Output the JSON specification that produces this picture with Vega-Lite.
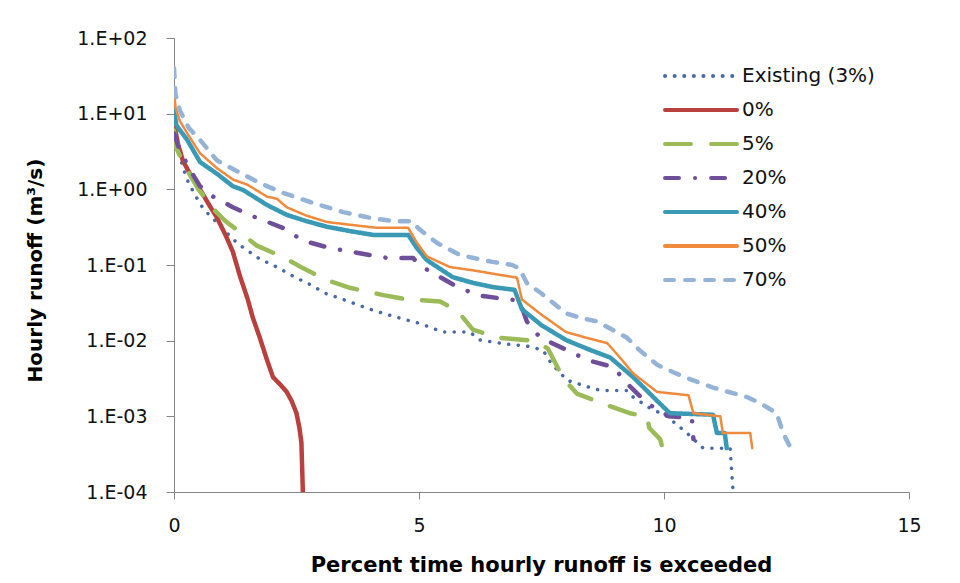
{
  "$schema": "https://vega.github.io/schema/vega-lite/v6.json",
  "autosize": {"type": "none"},
  "width": 735,
  "height": 454,
  "padding": {"left": 174, "top": 38, "right": 51, "bottom": 91},
  "background": "white",
  "config": {
    "view": {"stroke": null},
    "font": "DejaVu Sans",
    "axis": {"grid": false, "domainColor": "#868686", "tickColor": "#868686", "labelColor": "#111111", "labelFont": "DejaVu Sans", "labelFontSize": 19, "titleFont": "DejaVu Sans", "titleFontWeight": "bold", "titleColor": "#000000"},
    "legend": {"symbolType": "stroke", "symbolSize": 5184, "symbolStrokeWidth": 4, "labelFont": "DejaVu Sans", "labelFontSize": 20, "labelColor": "#111111", "labelOffset": 3, "clipHeight": 34, "rowPadding": 0, "padding": 0}
  },
  "data": {"values": [
    {"series":"Existing (3%)","x":0,"y":7},{"series":"Existing (3%)","x":0.05,"y":4},{"series":"Existing (3%)","x":0.1,"y":3},{"series":"Existing (3%)","x":0.2,"y":1.8},{"series":"Existing (3%)","x":0.3,"y":1.2},{"series":"Existing (3%)","x":0.45,"y":0.8},{"series":"Existing (3%)","x":0.6,"y":0.55},{"series":"Existing (3%)","x":0.94,"y":0.33},{"series":"Existing (3%)","x":1.2,"y":0.22},{"series":"Existing (3%)","x":1.41,"y":0.17},{"series":"Existing (3%)","x":1.75,"y":0.12},{"series":"Existing (3%)","x":2.1,"y":0.094},{"series":"Existing (3%)","x":2.45,"y":0.07},{"series":"Existing (3%)","x":2.78,"y":0.055},{"series":"Existing (3%)","x":3.1,"y":0.042},{"series":"Existing (3%)","x":3.45,"y":0.035},{"series":"Existing (3%)","x":4.0,"y":0.026},{"series":"Existing (3%)","x":4.47,"y":0.021},{"series":"Existing (3%)","x":5.0,"y":0.017},{"series":"Existing (3%)","x":5.49,"y":0.013},{"series":"Existing (3%)","x":6.04,"y":0.013},{"series":"Existing (3%)","x":6.24,"y":0.0102},{"series":"Existing (3%)","x":6.8,"y":0.009},{"series":"Existing (3%)","x":7.2,"y":0.0085},{"series":"Existing (3%)","x":7.53,"y":0.0075},{"series":"Existing (3%)","x":7.7,"y":0.005},{"series":"Existing (3%)","x":8.02,"y":0.003},{"series":"Existing (3%)","x":8.4,"y":0.0025},{"series":"Existing (3%)","x":8.7,"y":0.0022},{"series":"Existing (3%)","x":9.24,"y":0.0022},{"series":"Existing (3%)","x":9.37,"y":0.0018},{"series":"Existing (3%)","x":9.7,"y":0.0013},{"series":"Existing (3%)","x":10.06,"y":0.001},{"series":"Existing (3%)","x":10.47,"y":0.0006},{"series":"Existing (3%)","x":10.8,"y":0.00038},{"series":"Existing (3%)","x":11.35,"y":0.00038},{"series":"Existing (3%)","x":11.41,"y":0.0001},
    {"series":"0%","x":0,"y":9},{"series":"0%","x":0.03,"y":6},{"series":"0%","x":0.08,"y":4},{"series":"0%","x":0.18,"y":2.4},{"series":"0%","x":0.35,"y":1.5},{"series":"0%","x":0.53,"y":1.0},{"series":"0%","x":0.7,"y":0.65},{"series":"0%","x":0.87,"y":0.43},{"series":"0%","x":1.05,"y":0.25},{"series":"0%","x":1.2,"y":0.15},{"series":"0%","x":1.35,"y":0.07},{"series":"0%","x":1.5,"y":0.036},{"series":"0%","x":1.61,"y":0.02},{"series":"0%","x":1.75,"y":0.011},{"series":"0%","x":1.9,"y":0.0055},{"series":"0%","x":2.02,"y":0.0033},{"series":"0%","x":2.15,"y":0.0027},{"series":"0%","x":2.3,"y":0.0021},{"series":"0%","x":2.4,"y":0.0016},{"series":"0%","x":2.5,"y":0.0011},{"series":"0%","x":2.56,"y":0.0007},{"series":"0%","x":2.6,"y":0.00045},{"series":"0%","x":2.63,"y":0.0001},
    {"series":"5%","x":0,"y":6},{"series":"5%","x":0.05,"y":3.5},{"series":"5%","x":0.19,"y":2.2},{"series":"5%","x":0.5,"y":1.0},{"series":"5%","x":0.8,"y":0.55},{"series":"5%","x":1.05,"y":0.38},{"series":"5%","x":1.29,"y":0.29},{"series":"5%","x":1.69,"y":0.18},{"series":"5%","x":2.22,"y":0.128},{"series":"5%","x":2.63,"y":0.091},{"series":"5%","x":3.12,"y":0.063},{"series":"5%","x":3.59,"y":0.05},{"series":"5%","x":4.27,"y":0.04},{"series":"5%","x":4.76,"y":0.035},{"series":"5%","x":5.43,"y":0.033},{"series":"5%","x":5.78,"y":0.025},{"series":"5%","x":6.1,"y":0.014},{"series":"5%","x":6.59,"y":0.011},{"series":"5%","x":7.33,"y":0.01},{"series":"5%","x":7.63,"y":0.0079},{"series":"5%","x":7.94,"y":0.0032},{"series":"5%","x":8.22,"y":0.002},{"series":"5%","x":8.84,"y":0.0014},{"series":"5%","x":9.3,"y":0.0011},{"series":"5%","x":9.65,"y":0.001},{"series":"5%","x":9.7,"y":0.0007},{"series":"5%","x":9.92,"y":0.0005},{"series":"5%","x":9.98,"y":0.00036},
    {"series":"20%","x":0,"y":5.5},{"series":"20%","x":0.1,"y":3.5},{"series":"20%","x":0.33,"y":1.8},{"series":"20%","x":0.53,"y":1.1},{"series":"20%","x":0.8,"y":0.8},{"series":"20%","x":1.2,"y":0.58},{"series":"20%","x":1.65,"y":0.43},{"series":"20%","x":2.22,"y":0.31},{"series":"20%","x":2.63,"y":0.21},{"series":"20%","x":3.18,"y":0.168},{"series":"20%","x":3.73,"y":0.145},{"series":"20%","x":4.35,"y":0.124},{"series":"20%","x":4.88,"y":0.124},{"series":"20%","x":5.0,"y":0.1},{"series":"20%","x":5.29,"y":0.078},{"series":"20%","x":5.7,"y":0.055},{"series":"20%","x":6.18,"y":0.04},{"series":"20%","x":6.82,"y":0.035},{"series":"20%","x":7.05,"y":0.034},{"series":"20%","x":7.2,"y":0.018},{"series":"20%","x":7.47,"y":0.011},{"series":"20%","x":8.02,"y":0.0075},{"series":"20%","x":8.45,"y":0.0055},{"series":"20%","x":8.96,"y":0.0045},{"series":"20%","x":9.3,"y":0.0025},{"series":"20%","x":9.65,"y":0.0015},{"series":"20%","x":10.1,"y":0.001},{"series":"20%","x":10.57,"y":0.00095},{"series":"20%","x":10.6,"y":0.0005},
    {"series":"40%","x":0,"y":11},{"series":"40%","x":0.05,"y":7},{"series":"40%","x":0.27,"y":4.5},{"series":"40%","x":0.53,"y":2.3},{"series":"40%","x":0.88,"y":1.6},{"series":"40%","x":1.2,"y":1.1},{"series":"40%","x":1.41,"y":0.98},{"series":"40%","x":1.9,"y":0.62},{"series":"40%","x":2.3,"y":0.46},{"series":"40%","x":2.7,"y":0.38},{"series":"40%","x":3.12,"y":0.32},{"series":"40%","x":3.6,"y":0.28},{"series":"40%","x":4.06,"y":0.25},{"series":"40%","x":4.78,"y":0.25},{"series":"40%","x":4.95,"y":0.17},{"series":"40%","x":5.16,"y":0.116},{"series":"40%","x":5.69,"y":0.069},{"series":"40%","x":6.1,"y":0.058},{"series":"40%","x":6.51,"y":0.051},{"series":"40%","x":6.95,"y":0.047},{"series":"40%","x":7.1,"y":0.026},{"series":"40%","x":7.5,"y":0.016},{"series":"40%","x":8.0,"y":0.0102},{"series":"40%","x":8.5,"y":0.0075},{"series":"40%","x":8.9,"y":0.006},{"series":"40%","x":9.37,"y":0.0033},{"series":"40%","x":9.86,"y":0.0016},{"series":"40%","x":10.12,"y":0.0011},{"series":"40%","x":11.0,"y":0.00105},{"series":"40%","x":11.08,"y":0.0006},{"series":"40%","x":11.24,"y":0.0006},{"series":"40%","x":11.28,"y":0.00038},
    {"series":"50%","x":0,"y":22},{"series":"50%","x":0.03,"y":12},{"series":"50%","x":0.12,"y":8},{"series":"50%","x":0.27,"y":5.5},{"series":"50%","x":0.53,"y":3.0},{"series":"50%","x":0.88,"y":1.9},{"series":"50%","x":1.2,"y":1.35},{"series":"50%","x":1.5,"y":1.15},{"series":"50%","x":1.9,"y":0.8},{"series":"50%","x":2.1,"y":0.75},{"series":"50%","x":2.3,"y":0.58},{"series":"50%","x":2.7,"y":0.45},{"series":"50%","x":3.12,"y":0.37},{"series":"50%","x":3.6,"y":0.34},{"series":"50%","x":4.14,"y":0.31},{"series":"50%","x":4.78,"y":0.31},{"series":"50%","x":4.95,"y":0.2},{"series":"50%","x":5.16,"y":0.13},{"series":"50%","x":5.63,"y":0.094},{"series":"50%","x":6.1,"y":0.085},{"series":"50%","x":6.6,"y":0.075},{"series":"50%","x":7.0,"y":0.068},{"series":"50%","x":7.1,"y":0.035},{"series":"50%","x":7.5,"y":0.022},{"series":"50%","x":8.0,"y":0.013},{"series":"50%","x":8.4,"y":0.011},{"series":"50%","x":8.84,"y":0.0093},{"series":"50%","x":9.1,"y":0.006},{"series":"50%","x":9.37,"y":0.0037},{"series":"50%","x":9.86,"y":0.0021},{"series":"50%","x":10.5,"y":0.0019},{"series":"50%","x":10.6,"y":0.0011},{"series":"50%","x":11.15,"y":0.001},{"series":"50%","x":11.2,"y":0.0006},{"series":"50%","x":11.76,"y":0.0006},{"series":"50%","x":11.8,"y":0.00038},
    {"series":"70%","x":0,"y":40},{"series":"70%","x":0.03,"y":18},{"series":"70%","x":0.12,"y":11},{"series":"70%","x":0.3,"y":6.5},{"series":"70%","x":0.53,"y":4.5},{"series":"70%","x":0.88,"y":2.4},{"series":"70%","x":1.35,"y":1.65},{"series":"70%","x":1.76,"y":1.2},{"series":"70%","x":2.22,"y":0.9},{"series":"70%","x":2.78,"y":0.68},{"series":"70%","x":3.45,"y":0.5},{"series":"70%","x":4.0,"y":0.42},{"series":"70%","x":4.47,"y":0.38},{"series":"70%","x":4.85,"y":0.38},{"series":"70%","x":5.0,"y":0.3},{"series":"70%","x":5.37,"y":0.195},{"series":"70%","x":5.84,"y":0.135},{"series":"70%","x":6.5,"y":0.11},{"series":"70%","x":6.9,"y":0.1},{"series":"70%","x":7.05,"y":0.09},{"series":"70%","x":7.2,"y":0.058},{"series":"70%","x":7.5,"y":0.042},{"series":"70%","x":8.0,"y":0.023},{"series":"70%","x":8.3,"y":0.02},{"series":"70%","x":8.63,"y":0.018},{"series":"70%","x":9.24,"y":0.011},{"series":"70%","x":9.5,"y":0.0075},{"series":"70%","x":9.86,"y":0.0048},{"series":"70%","x":10.2,"y":0.0038},{"series":"70%","x":10.47,"y":0.0032},{"series":"70%","x":11.0,"y":0.0024},{"series":"70%","x":11.69,"y":0.0018},{"series":"70%","x":11.96,"y":0.0015},{"series":"70%","x":12.3,"y":0.0011},{"series":"70%","x":12.43,"y":0.0006},{"series":"70%","x":12.57,"y":0.0004},{"series":"70%","x":12.65,"y":0.0004}
  ]},
  "mark": {"type": "line", "clip": true, "strokeCap": "round", "strokeJoin": "round"},
  "encoding": {
    "x": {"field": "x", "type": "quantitative", "scale": {"domain": [0, 15], "nice": false, "zero": false},
      "axis": {"values": [0, 5, 10, 15], "labelFlush": false, "title": "Percent time hourly runoff is exceeded", "titleFontSize": 21, "tickSize": 7, "labelPadding": 17, "titleX": 367, "titleY": 73, "titleBaseline": "middle", "titleAnchor": "middle"}},
    "y": {"field": "y", "type": "quantitative", "scale": {"type": "log", "domain": [0.0001, 100], "nice": false},
      "axis": {"values": [0.0001, 0.001, 0.01, 0.1, 1, 10, 100], "labelExpr": "'1.E' + (datum.value >= 1 ? '+' : '-') + '0' + abs(round(log(datum.value)/LN10))", "title": "Hourly runoff (m³/s)", "titleFontSize": 20, "tickSize": 8, "labelPadding": 19, "titleX": -139, "titleY": 232, "titleBaseline": "middle", "titleAngle": -90}},
    "color": {"field": "series", "type": "nominal",
      "scale": {"domain": ["Existing (3%)", "0%", "5%", "20%", "40%", "50%", "70%"], "range": ["#4A6AA5", "#B8403D", "#9BBB59", "#704F9A", "#3A9AB5", "#F08A3C", "#95B3D7"]},
      "legend": {"title": null, "orient": "none", "legendX": 489, "legendY": 21,
        "encode": {"symbols": {"update": {"strokeCap": {"value": "round"}}}}}},
    "strokeDash": {"field": "series", "type": "nominal",
      "scale": {"domain": ["Existing (3%)", "0%", "5%", "20%", "40%", "50%", "70%"], "range": [[0.1, 9.5], [1, 0], [26, 20], [14, 16, 0.1, 16], [1, 0], [1, 0], [9, 11]]},
      "legend": {"title": null, "orient": "none", "legendX": 489, "legendY": 21}},
    "strokeWidth": {"condition": [{"test": "datum.series === '50%'", "value": 2.5}, {"test": "datum.series === 'Existing (3%)'", "value": 3.5}], "value": 4.5}
  }
}
